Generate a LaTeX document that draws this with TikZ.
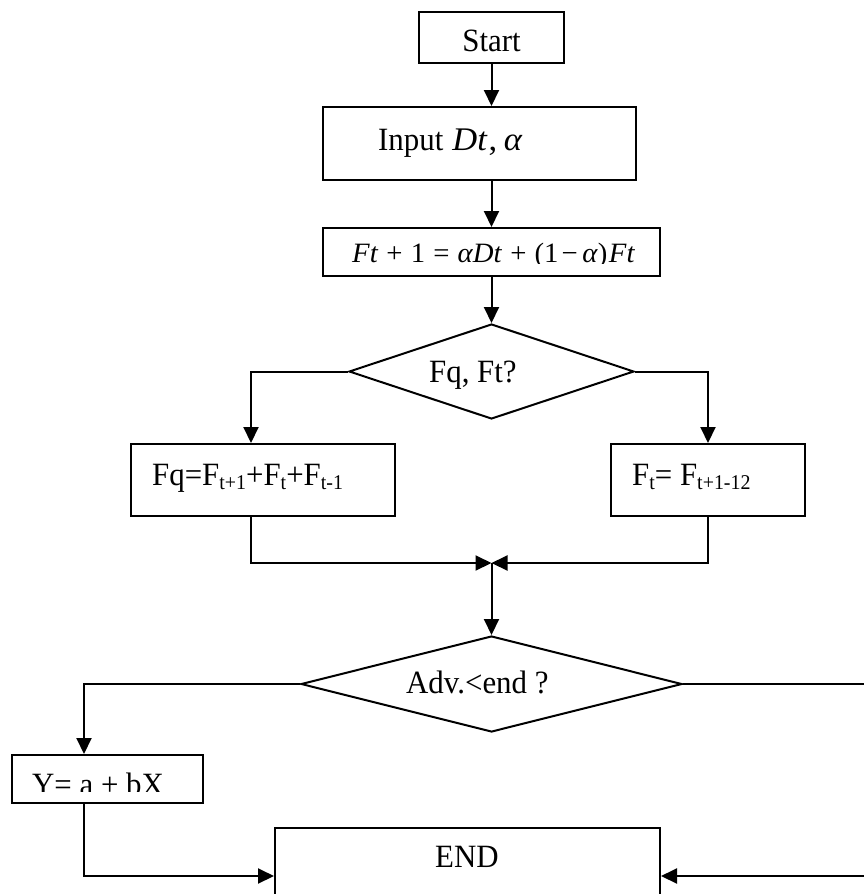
\documentclass[tikz,border=0pt]{standalone}
\usepackage{fontspec}
\setmainfont[FakeStretch=0.95]{Liberation Serif}
\usetikzlibrary{arrows.meta,shapes.geometric}
% Word-style lowered subscript
\newcommand\lowsub[1]{\raisebox{-4.5pt}{\fontsize{21}{21}\selectfont #1}}
% spacing around binary operators in the update formula
\newcommand\opsp{\hspace{0.27em}}
\begin{document}
\begin{tikzpicture}[x=1pt,y=-1pt,
  shapebox/.style={draw, rectangle, line width=2pt, inner sep=0pt},
  decision/.style={draw, diamond, line width=2pt, inner sep=0pt},
  txt/.style={inner sep=0pt, font=\fontsize{32.5}{32.5}\selectfont},
  flow/.style={line width=2pt, -{Triangle[length=16pt,width=15pt]}}]

\useasboundingbox (0,0) rectangle (864,894);
\fill[white] (0,0) rectangle (864,894);
\clip (0,0) rectangle (864,894);

% boxes and decisions
\node[shapebox, minimum width=145pt, minimum height=51pt] (start) at (491.5,37.5) {};
\node[shapebox, minimum width=313pt, minimum height=73pt] (input) at (479.5,143.5) {};
\node[shapebox, minimum width=337pt, minimum height=48pt] (update) at (491.5,252) {};
\node[decision, minimum width=285pt, minimum height=95pt] (d1) at (491.5,371.5) {};
\node[shapebox, minimum width=264pt, minimum height=72pt] (fq) at (263,480) {};
\node[shapebox, minimum width=194pt, minimum height=72pt] (ft) at (708,480) {};
\coordinate (merge) at (491.5,563);
\node[decision, minimum width=381pt, minimum height=96pt] (d2) at (491.5,684) {};
\node[shapebox, minimum width=191pt, minimum height=48pt] (ybox) at (107.5,779) {};
\node[shapebox, minimum width=385pt, minimum height=96pt] (endbox) at (467.5,876) {};
\coordinate (rturn) at (882,780);

% labels
\node[txt, anchor=base] (tstart) at (491.5,51.5) {Start};
\node[txt, anchor=base west] (tinput) at (378,150)
  {Input\hspace{9pt}\scalebox{1.1}[1]{\fontsize{33}{33}\selectfont\textit{Dt}\hspace{1pt},\hspace{6pt}\textit{α}}};
\begin{scope}
  \clip (323,228) rectangle (660,263.5);
  \node[inner sep=0pt, anchor=base west, font=\fontsize{28}{28}\selectfont] (tupdate) at (352,262)
    {\scalebox{1.08}[1]{\textit{Ft}\opsp+\opsp1\opsp=\opsp\textit{αDt}\opsp+\opsp(1\hspace{0.1em}−\hspace{0.15em}\textit{α})\hspace{0.05em}\textit{Ft}}};
\end{scope}
\node[txt, anchor=base west] (td1) at (429,382) {Fq, Ft?};
\node[txt, anchor=base west] (tfq) at (152,485) {Fq=F\lowsub{t+1}+F\lowsub{t}+F\lowsub{t-1}};
\node[txt, anchor=base west] (tft) at (632,485) {F\lowsub{t}= F\lowsub{t+1-12}};
\node[txt, anchor=base west] (td2) at (406,693) {Adv.<end ?};
\begin{scope}
  \clip (12,755) rectangle (203,791.5);
  \node[txt, anchor=base west] (ty) at (32,795) {Y= a + bX};
\end{scope}
\node[txt, anchor=base west] (tend) at (435,867) {END};

% connectors
\draw[flow] (start.south) -- (start.south |- input.north);
\draw[flow] (input.south -| start.south) -- (update.north);
\draw[flow] (update.south) -- (d1.north);
\draw[flow] (d1.west) -| ([xshift=-12pt]fq.north);
\draw[flow] (d1.east) -| (ft.north);
\draw[flow] ([xshift=-12pt]fq.south) |- (merge);
\draw[flow] (ft.south) |- (merge);
\draw[flow] (merge) -- (d2.north);
\draw[flow] (d2.west) -| ([xshift=-23.5pt]ybox.north);
\draw[flow] ([xshift=-23.5pt]ybox.south) |- (endbox.west);
\draw[flow] (d2.east) -| (rturn) |- (endbox.east);
\end{tikzpicture}
\end{document}
